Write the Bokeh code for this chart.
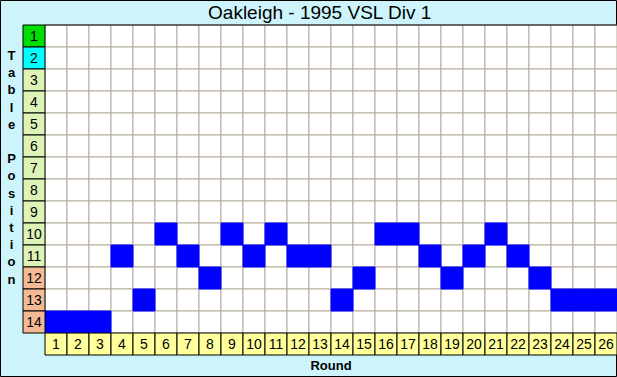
from bokeh.plotting import figure
from bokeh.models import Range1d, ColumnDataSource
from bokeh.core.properties import value
from bokeh.embed import file_html
from bokeh.resources import INLINE

# ---------------- data ----------------
title = "Oakleigh - 1995 VSL Div 1"
x_label = "Round"
y_label = "Table Position"
rounds = list(range(1, 27))
positions = [14, 14, 14, 11, 13, 10, 11, 12, 10, 11, 10, 11, 11,
             13, 12, 10, 10, 11, 12, 11, 10, 11, 12, 13, 13, 13]
table_positions = list(range(1, 15))
position_colors = ["#00dd00", "#00ffff"] + ["#def3b6"] * 9 + ["#f4ba96"] * 3

# ---------------- layout constants (pixels) ----------------
W, H = 617, 377
CELL = 22
X0 = 22.5   # left edge of the position-label column
Y0 = 24.5   # top edge of row 1


def dx(px):
    return (px - X0) / CELL - 0.5


def dy(py):
    return (py - Y0) / CELL + 0.5


p = figure(width=W, height=H, output_backend="svg", toolbar_location=None,
           x_axis_type=None, y_axis_type=None, min_border=0,
           x_range=Range1d(dx(0), dx(W)), y_range=Range1d(dy(H), dy(0)))
p.grid.visible = False
p.background_fill_color = "#cdf4fb"
p.border_fill_color = "#cdf4fb"
p.outline_line_color = "#000000"
p.title.visible = False

# grid of white cells
gx = [r for r in rounds for _ in table_positions]
gy = [t for _ in rounds for t in table_positions]
p.rect(x=gx, y=gy, width=1, height=1, fill_color="white",
       line_color="#b4ac9c", line_width=1)

# blue position cells
src = ColumnDataSource(dict(x=rounds, y=positions))
p.rect(x="x", y="y", width=1, height=1, source=src, fill_color="#0000ff",
       line_color="#0000ff", line_width=1)

# top black line over grid
p.segment(x0=[0.5], y0=[0.5], x1=[rounds[-1] + 0.5], y1=[0.5],
          line_color="black", line_width=1)

# position label column
p.rect(x=[0] * len(table_positions), y=table_positions, width=1, height=1,
       fill_color=position_colors, line_color="black", line_width=1)
p.text(x=[0] * len(table_positions), y=table_positions,
       text=[str(t) for t in table_positions],
       text_font=value("Liberation Sans"), text_font_size="14px",
       text_align="center", text_baseline="middle", text_color="black")

# round label row
label_row = len(table_positions) + 1
p.rect(x=rounds, y=[label_row] * len(rounds), width=1, height=1,
       fill_color="#ffff9c", line_color="black", line_width=1)
p.text(x=rounds, y=[label_row] * len(rounds), text=[str(r) for r in rounds],
       text_font=value("Liberation Sans"), text_font_size="14px",
       text_align="center", text_baseline="middle", text_color="black")

# title
p.text(x=[(0 + rounds[-1]) / 2], y=[dy(12)], text=[title],
       text_font=value("Liberation Sans"), text_font_size="19px",
       text_align="center", text_baseline="middle", text_color="black")

# x label
p.text(x=[(rounds[0] + rounds[-1]) / 2], y=[dy(365)], text=[x_label],
       text_font=value("Liberation Sans"), text_font_size="13px",
       text_font_style="bold",
       text_align="center", text_baseline="middle", text_color="black")

# vertical stacked y label
letters = list(y_label)
lx = [dx(11)] * len(letters)
ly = [dy(55 + 17.2 * i) for i in range(len(letters))]
p.text(x=lx, y=ly, text=letters,
       text_font=value("Liberation Sans"), text_font_size="13px",
       text_font_style="bold",
       text_align="center", text_baseline="middle", text_color="black")

open("out.html", "w").write(file_html(p, INLINE))
